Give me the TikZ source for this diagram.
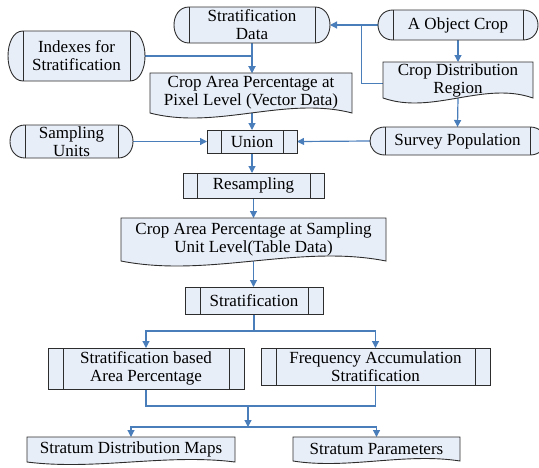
\documentclass[tikz,border=0pt]{standalone}
\usepackage{fontspec}
\setmainfont{Liberation Serif}
\usetikzlibrary{calc,arrows.meta}
\pgfdeclarelayer{back}
\pgfdeclarelayer{shp}
\pgfsetlayers{back,shp,main}
\definecolor{fillc}{RGB}{232,238,248}
\definecolor{bordc}{RGB}{45,45,45}
\definecolor{connc}{RGB}{74,126,187}
\tikzset{
  txt/.style={rectangle, inner sep=0pt, outer sep=0pt, align=center,
    font=\fontsize{17}{18}\selectfont},
  innl/.style={draw=bordc, line width=0.9pt},
  outl/.style={draw=bordc, fill=fillc, line width=0.9pt},
  proc/.style={txt, draw=bordc, fill=fillc, line width=0.9pt,
    path picture={\draw[innl]
      ([xshift=#1]path picture bounding box.north west) -- ([xshift=#1]path picture bounding box.south west)
      ([xshift=-#1]path picture bounding box.north east) -- ([xshift=-#1]path picture bounding box.south east);}},
  proc/.default=14pt,
  conn/.style={draw=connc, line width=1.2pt},
  arr/.style={conn, -{Triangle[length=7pt,width=7pt]}},
}
% node spanning (x1,y1)-(x2,y2)
\newcommand\putbox[7][txt]{%
  \node[#1, minimum width={#5-#3}, minimum height={#6-#4}] (#2) at ({(#3+#5)/2},{(#4+#6)/2}) {#7};}
% stored-data like outline with inner lines
\newcommand\stadshape[2][15]{%
  \begin{pgfonlayer}{shp}
  \path[outl] ($(#2.north west)+(#1,0)$) -- ($(#2.north east)+(-#1,0)$)
    .. controls ($(#2.north east)+({#1/3},0)$) and ($(#2.south east)+({#1/3},0)$) .. ($(#2.south east)+(-#1,0)$)
    -- ($(#2.south west)+(#1,0)$)
    .. controls ($(#2.south west)+({-#1/3},0)$) and ($(#2.north west)+({-#1/3},0)$) .. cycle;
  \path[innl] ($(#2.north west)+(#1,0)$) -- ($(#2.south west)+(#1,0)$)
    ($(#2.north east)+(-#1,0)$) -- ($(#2.south east)+(-#1,0)$);
  \end{pgfonlayer}}
% document outline with wavy bottom
\newcommand\docshape[2][5]{%
  \begin{pgfonlayer}{shp}
  \path[outl] (#2.south west) -- (#2.north west) -- (#2.north east) -- (#2.south east)
    .. controls ($(#2.south east)!0.33!(#2.south west)+(0,{-3.46*#1})$)
    and ($(#2.south east)!0.67!(#2.south west)+(0,{3.46*#1})$) .. (#2.south west) -- cycle;
  \end{pgfonlayer}}
\begin{document}
\begin{tikzpicture}[x=1pt,y=-1pt]
\useasboundingbox (0,0) rectangle (539,467);
% nodes
\putbox{sdata}{174}{7}{330}{43}{Stratification\\Data}
\putbox{objcrop}{378}{10}{538}{40}{A Object Crop}
\putbox{cdr}{383}{62}{533}{98}{Crop Distribution\\Region}
\putbox{idx}{8}{31}{145}{81}{Indexes for\\Stratification}
\putbox{cappix}{150}{73}{352}{113}{Crop Area Percentage at\\Pixel Level (Vector Data)}
\putbox{sunits}{10}{125}{133}{158}{Sampling\\Units}
\putbox[proc]{union}{207}{130}{297}{153}{Union}
\putbox{survey}{370}{127}{545}{155}{Survey Population}
\putbox[proc]{resamp}{183}{173}{324}{198}{Resampling}
\putbox{capsu}{121}{218}{386}{261}{Crop Area Percentage at Sampling\\Unit Level(Table Data)}
\putbox[proc=15pt]{strat}{185}{287}{323}{314}{Stratification}
\putbox[proc=15pt]{sbap}{48}{348}{244}{389}{Stratification based\\Area Percentage}
\putbox[proc=15pt]{fas}{261}{348}{490}{385}{Frequency Accumulation\\Stratification}
\putbox{sdm}{27}{437}{235}{462}{Stratum Distribution Maps}
\putbox{sp}{293}{437}{460}{461}{Stratum Parameters}
% outlines
\stadshape{sdata}
\stadshape{objcrop}
\stadshape{idx}
\stadshape{sunits}
\stadshape{survey}
\docshape{cdr}
\docshape{cappix}
\docshape{capsu}
\docshape[2.5]{sdm}
\docshape[2.5]{sp}
% connectors
\begin{pgfonlayer}{back}
\draw[arr] (objcrop.west) -- (sdata.east);
\draw[conn] ([yshift=-3.5pt]cdr.west) -| ($(sdata.east)!0.65!(objcrop.west)$);
\draw[arr] (objcrop.south) -- (cdr.north);
\draw[arr] (cdr.south) -- (survey.north);
\draw[arr] (sdata.south) -- (sdata.south |- cappix.north);
\draw[arr] (idx.east) -| (sdata.south |- cappix.north);
\draw[arr] (cappix.south -| union.north) -- (union.north);
\draw[arr] (sunits.east) -- (union.west);
\draw[arr] (survey.west) -- (union.east);
\draw[arr] (union.south) -- (union.south |- resamp.north);
\draw[arr] (resamp.south) -- (capsu.north);
\draw[arr] (capsu.south) -- (capsu.south |- strat.north);
\coordinate (sj) at ($(strat.south)+(0,17)$);
\draw[conn] (strat.south) -- (sj);
\draw[arr] (sj) -| (sbap.north);
\draw[arr] (sj) -| (fas.north);
\coordinate (mj) at (248,406);
\coordinate (bj) at (248,427);
\draw[conn] (sbap.south) |- (mj);
\draw[conn] (fas.south) |- (mj);
\draw[arr] (mj) -- (bj);
\draw[arr] (bj) -| (sdm.north);
\draw[arr] (bj) -| (sp.north);
\end{pgfonlayer}
\end{tikzpicture}
\end{document}
